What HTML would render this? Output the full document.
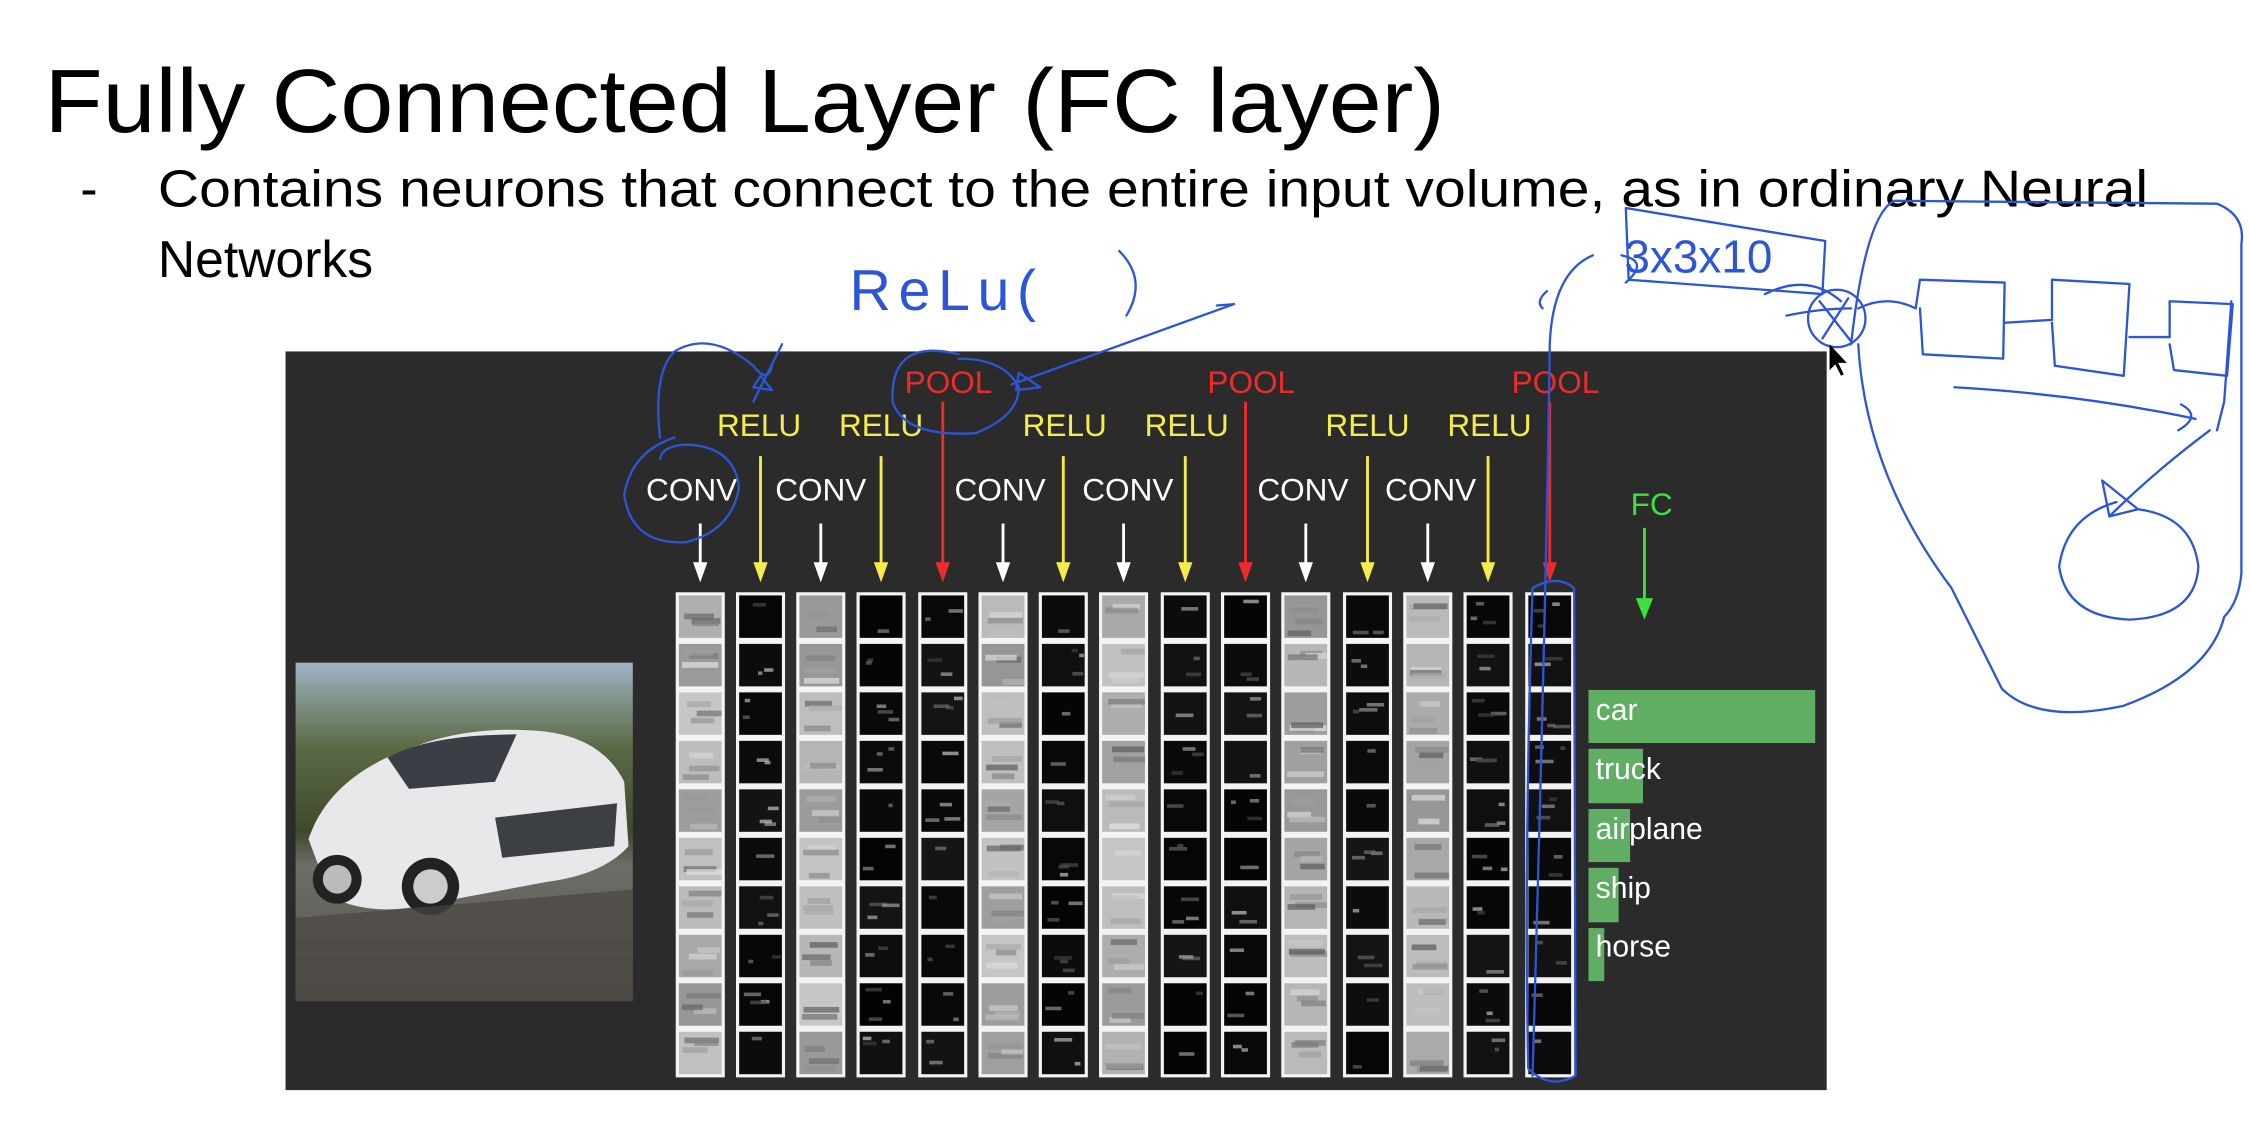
<!DOCTYPE html>
<html><head><meta charset="utf-8">
<style>
html,body{margin:0;padding:0;background:#fff;width:2250px;height:1126px;overflow:hidden}
svg{display:block}
</style></head>
<body>
<svg id="s" width="2250" height="1126" viewBox="0 0 1568 785" preserveAspectRatio="none" xmlns="http://www.w3.org/2000/svg" font-family="Liberation Sans, Arial, sans-serif">
<rect width="1568" height="785" fill="#fff"/>
<text x="31" y="92" font-size="63" fill="#000" textLength="976" lengthAdjust="spacingAndGlyphs">Fully Connected Layer (FC layer)</text>
<text x="56" y="144" font-size="36" fill="#000">-</text>
<text x="110" y="144" font-size="36" fill="#000" textLength="1387" lengthAdjust="spacingAndGlyphs">Contains neurons that connect to the entire input volume, as in ordinary Neural</text>
<text x="110" y="193" font-size="36" fill="#000">Networks</text>

<rect x="199" y="245" width="1074" height="515" fill="#2b2b2b"/>
<defs>
<linearGradient id="sky" x1="0" y1="0" x2="0" y2="1">
<stop offset="0" stop-color="#9fb4c4"/><stop offset="0.25" stop-color="#5b6a45"/><stop offset="0.5" stop-color="#3e4a2c"/><stop offset="0.6" stop-color="#6d6d68"/><stop offset="1" stop-color="#56524c"/></linearGradient>
</defs>
<rect x="206" y="462" width="235" height="236" fill="url(#sky)"/>
<path d="M215 585 Q230 540 290 520 Q330 505 380 510 Q420 515 435 545 L438 590 Q420 610 380 615 L300 630 Q260 640 230 625 Z" fill="#e8e8ea"/>
<path d="M270 528 Q300 512 360 512 L345 545 L285 550 Z" fill="#3a3e44"/>
<path d="M345 570 L430 560 L428 590 L350 598 Z" fill="#3c3f44"/>
<circle cx="235" cy="613" r="17" fill="#222"/><circle cx="300" cy="618" r="20" fill="#222"/>
<circle cx="300" cy="618" r="12" fill="#ccc"/><circle cx="235" cy="613" r="10" fill="#bbb"/>
<path d="M206 640 L441 620 L441 698 L206 698Z" fill="#4a4640" opacity="0.7"/>

<g id="grid"></g>

<g font-size="22" text-anchor="middle">
<g fill="#fff"><text x="482" y="349">CONV</text><text x="572" y="349">CONV</text><text x="697" y="349">CONV</text><text x="786" y="349">CONV</text><text x="908" y="349">CONV</text><text x="997" y="349">CONV</text></g>
<g fill="#f4ec4a"><text x="529" y="304">RELU</text><text x="614" y="304">RELU</text><text x="742" y="304">RELU</text><text x="827" y="304">RELU</text><text x="953" y="304">RELU</text><text x="1038" y="304">RELU</text></g>
<g fill="#ee2b2b"><text x="661" y="274">POOL</text><text x="872" y="274">POOL</text><text x="1084" y="274">POOL</text></g>
<text x="1151" y="359" fill="#3ee03e">FC</text>
</g>
<g id="arrows"></g>

<g fill="#5fae64">
<rect x="1107" y="481" width="158" height="37"/><rect x="1107" y="522" width="38" height="38"/><rect x="1107" y="564" width="29" height="37"/><rect x="1107" y="605" width="21" height="38"/><rect x="1107" y="647" width="11" height="37"/>
</g>
<g fill="#fff" font-size="21"><text x="1112" y="502">car</text><text x="1112" y="543">truck</text><text x="1112" y="585">airplane</text><text x="1112" y="626">ship</text><text x="1112" y="667">horse</text></g>

<g fill="none" stroke="#2c55d8" stroke-width="1.6" stroke-linecap="round" stroke-linejoin="round">
<text x="592" y="216" font-size="40" fill="#2c55d8" stroke="none" textLength="130" lengthAdjust="spacing">ReLu(</text>
<path d="M780 175 Q800 195 785 220"/>
<path d="M705 268 L860 212 M860 212 L848 213"/>
<path d="M710 260 L725 270 L708 272 Z"/>
<path d="M668 247 Q620 235 622 280 Q630 305 680 302 Q710 290 710 270 Q700 250 668 250"/>
<path d="M460 305 Q455 260 470 245 Q495 230 525 255 Q535 268 538 255 M545 240 L525 280"/>
<path d="M530 262 L525 270 L538 272 Z"/>
<path d="M470 305 Q440 315 435 345 Q440 380 478 378 Q510 370 515 340 Q512 312 480 310 Q462 310 460 320"/>
<text x="1132" y="190" font-size="32" fill="#2c55d8" stroke="none">3x3x10</text>
<path d="M1133 145 L1272 168 L1270 205 L1135 195 L1133 145 M1130 178 Q1150 182 1133 197"/>
<path d="M1110 178 Q1082 190 1080 240 Q1078 400 1068 750 M1078 203 Q1070 210 1075 215"/>
<path d="M1068 410 Q1085 400 1097 410 L1098 750 Q1080 760 1065 745 Q1062 600 1068 410"/>
<circle cx="1280" cy="222" r="20"/>
<path d="M1268 210 L1290 238 M1288 208 L1270 236"/>
<path d="M1230 205 Q1260 190 1283 210 M1245 220 Q1270 215 1290 215"/>
<path d="M1295 215 Q1315 205 1335 215 L1338 195 L1397 197 L1396 250 L1340 247 L1338 215"/>
<path d="M1397 225 L1430 223 L1430 195 L1484 198 L1480 262 L1432 255 L1430 225"/>
<path d="M1484 235 L1512 235 L1512 210 L1556 212 L1552 262 L1515 258 L1512 240"/>
<path d="M1362 270 Q1450 275 1530 292 M1520 282 Q1535 290 1518 300"/>
<path d="M1290 240 Q1300 150 1320 140 L1545 142 Q1565 150 1562 170 L1562 400 Q1560 420 1550 430 Q1540 470 1480 492 Q1420 505 1395 480 Q1375 440 1360 410 Q1300 330 1295 240"/>
<path d="M1475 350 Q1440 360 1435 395 Q1440 430 1484 432 Q1530 430 1532 395 Q1528 360 1490 355"/>
<path d="M1465 335 L1470 360 L1490 355 Z M1470 360 Q1500 330 1540 300"/>
<path d="M1555 210 L1550 280 L1545 300"/>
</g>
<path d="M1275 240 L1275 258 L1279 254 L1283 262 L1285 261 L1281 253 L1287 253 Z" fill="#000"/>
</svg>
<script>
(function(){
var NS="http://www.w3.org/2000/svg";
var g=document.getElementById("grid"),a=document.getElementById("arrows");
var xs=[471,513,555,597,640,682,724,766,809,851,893,936,978,1020,1063];
var light={0:1,2:1,5:1,7:1,10:1,12:1};
var seed=7;function r(){seed=(seed*9301+49297)%233280;return seed/233280;}
function el(n,at,p){var e=document.createElementNS(NS,n);for(var k in at)e.setAttribute(k,at[k]);p.appendChild(e);return e;}
for(var c=0;c<15;c++){
 for(var i=0;i<10;i++){
  var y=413+i*33.8, x=xs[c];
  var v;
  if(light[c]){v=Math.round(150+r()*50);}
  else{v=Math.round(3+r()*18);}
  el("rect",{x:x+1,y:y+1,width:32,height:31.8,fill:"rgb("+v+","+v+","+v+")",stroke:"#f4f4f4","stroke-width":"2.2"},g);
  var nb=light[c]?3:(1+Math.floor(r()*3));
  for(var k=0;k<nb;k++){
   var w=light[c]?(14+r()*12):(3+r()*10);
   var vv=light[c]?Math.round(90+r()*140):Math.round(60+r()*140);
   el("rect",{x:x+4+r()*(28-w),y:y+5+r()*22,width:w,height:light[c]?4:2.5,fill:"rgb("+vv+","+vv+","+vv+")",opacity:0.7},g);
  }
 }
}
var t=["w","y","w","y","r","w","y","w","y","r","w","y","w","y","r"];
var col={w:"#ffffff",y:"#f4ec4a",r:"#ee2b2b"},top={w:365,y:318,r:280};
for(var c=0;c<15;c++){
 var cx=xs[c]+17,tp=t[c];
 el("line",{x1:cx,y1:top[tp],x2:cx,y2:395,stroke:col[tp],"stroke-width":2},a);
 el("path",{d:"M"+(cx-5)+" 392 L"+(cx+5)+" 392 L"+cx+" 406 Z",fill:col[tp]},a);
}
el("line",{x1:1146,y1:368,x2:1146,y2:420,stroke:"#3ee03e","stroke-width":2},a);
el("path",{d:"M1140 417 L1152 417 L1146 432 Z",fill:"#3ee03e"},a);
})();
</script>
</body></html>
